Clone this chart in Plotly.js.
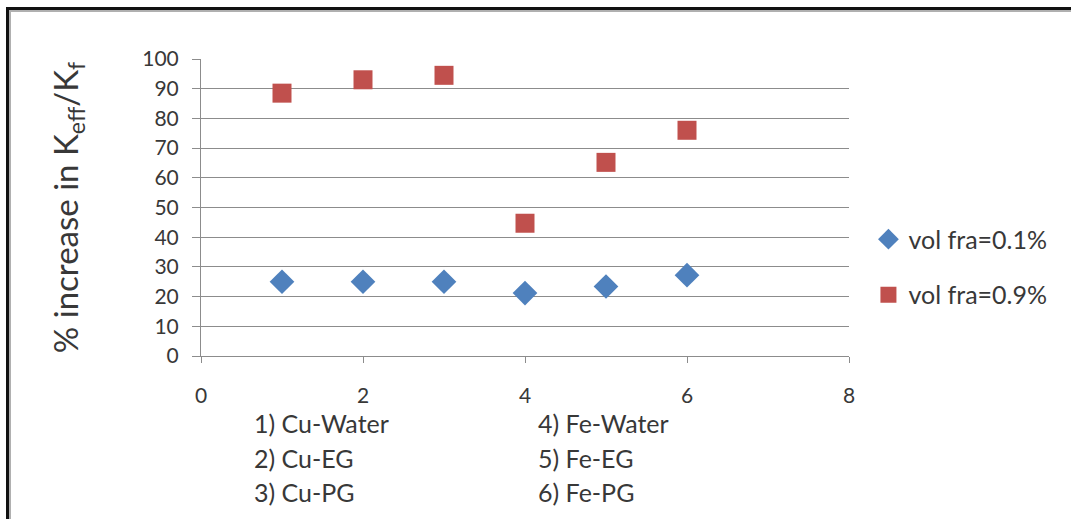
<!DOCTYPE html>
<html>
<head>
<meta charset="utf-8">
<script src="https://cdn.plot.ly/plotly-3.0.1.min.js"></script>
<style>
  html, body { margin: 0; padding: 0; background: #ffffff; }
  #frame {
    position: absolute; left: 0; top: 0; width: 1071px; height: 519px; overflow: hidden;
  }
  #chart { position: absolute; left: 0; top: 0; width: 1071px; height: 519px; }
  #edge {
    position: absolute; left: 6px; top: 7px; width: 1100px; height: 600px;
    border-left: 3px solid #111; border-top: 3px solid #111;
    box-shadow: inset 2px 2px 0 #b0b0b0;
    pointer-events: none;
  }
</style>
</head>
<body>
<div id="frame">
  <div id="chart"></div>
  <div id="edge"></div>
</div>
<script>
// Nanofluid index on the x axis (1..6) and % increase in Keff/Kf
const fluidIndex = [1, 2, 3, 4, 5, 6];
const volFrac01 = [25, 25, 25, 21.2, 23.4, 27.2];
const volFrac09 = [88.5, 93, 94.5, 44.7, 65.2, 76];
const seriesNames = ['vol fra=0.1%', 'vol fra=0.9%'];
const fluidLabelsLeft = ['1) Cu-Water', '2) Cu-EG', '3) Cu-PG'];
const fluidLabelsRight = ['4) Fe-Water', '5) Fe-EG', '6) Fe-PG'];

const FONT = 'Lato, "Open Sans", sans-serif';
const GRID = '#8c8c8c';
const INK = '#383838';

const traces = [
  {
    x: fluidIndex, y: volFrac01, name: seriesNames[0], type: 'scatter', mode: 'markers',
    legendgroup: 'a',
    marker: { symbol: 'diamond', size: 19, color: '#4f81bd' }
  },
  {
    x: fluidIndex, y: volFrac09, name: seriesNames[1], type: 'scatter', mode: 'markers',
    legendgroup: 'b',
    marker: { symbol: 'square', size: 19, color: '#c0504d' }
  }
];

// Key to the numbered fluids, listed under the x axis
const annotations = [];
fluidLabelsLeft.forEach((t, i) => annotations.push({
  text: t, xref: 'x', yref: 'paper', x: 0.63, y: -0.225 - i * 0.117,
  xanchor: 'left', yanchor: 'middle', showarrow: false,
  font: { family: FONT, size: 25, color: INK }
}));
fluidLabelsRight.forEach((t, i) => annotations.push({
  text: t, xref: 'x', yref: 'paper', x: 4.13, y: -0.225 - i * 0.117,
  xanchor: 'left', yanchor: 'middle', showarrow: false,
  font: { family: FONT, size: 25, color: INK }
}));

const layout = {
  width: 1071, height: 519,
  margin: { l: 201, r: 222, t: 59, b: 163 },
  paper_bgcolor: '#ffffff', plot_bgcolor: '#ffffff',
  font: { family: FONT, color: INK },
  showlegend: true,
  legend: {
    x: 1.03, y: 0.30, xanchor: 'left', yanchor: 'middle',
    font: { family: FONT, size: 25, color: INK },
    tracegroupgap: 20, itemwidth: 30, bgcolor: 'rgba(0,0,0,0)'
  },
  xaxis: {
    range: [0, 8], dtick: 2, tick0: 0, showgrid: false, zeroline: false,
    showline: true, linecolor: GRID, linewidth: 1,
    ticks: 'outside', ticklen: 6, tickcolor: GRID,
    ticklabelstandoff: 15,
    tickfont: { family: FONT, size: 21, color: INK }
  },
  yaxis: {
    range: [0, 100], dtick: 10, tick0: 0, showgrid: true, gridcolor: GRID, gridwidth: 1,
    zeroline: false, showline: true, linecolor: GRID, linewidth: 1,
    ticks: 'outside', ticklen: 8, tickcolor: GRID,
    ticklabelstandoff: 9,
    tickfont: { family: FONT, size: 21, color: INK },
    title: {
      text: '% increase in K<sub>eff</sub>/K<sub>f</sub>',
      font: { family: FONT, size: 33, color: INK },
      standoff: 53
    }
  },
  annotations: annotations
};

Plotly.newPlot('chart', traces, layout, { displayModeBar: false, staticPlot: true });
</script>
</body>
</html>
